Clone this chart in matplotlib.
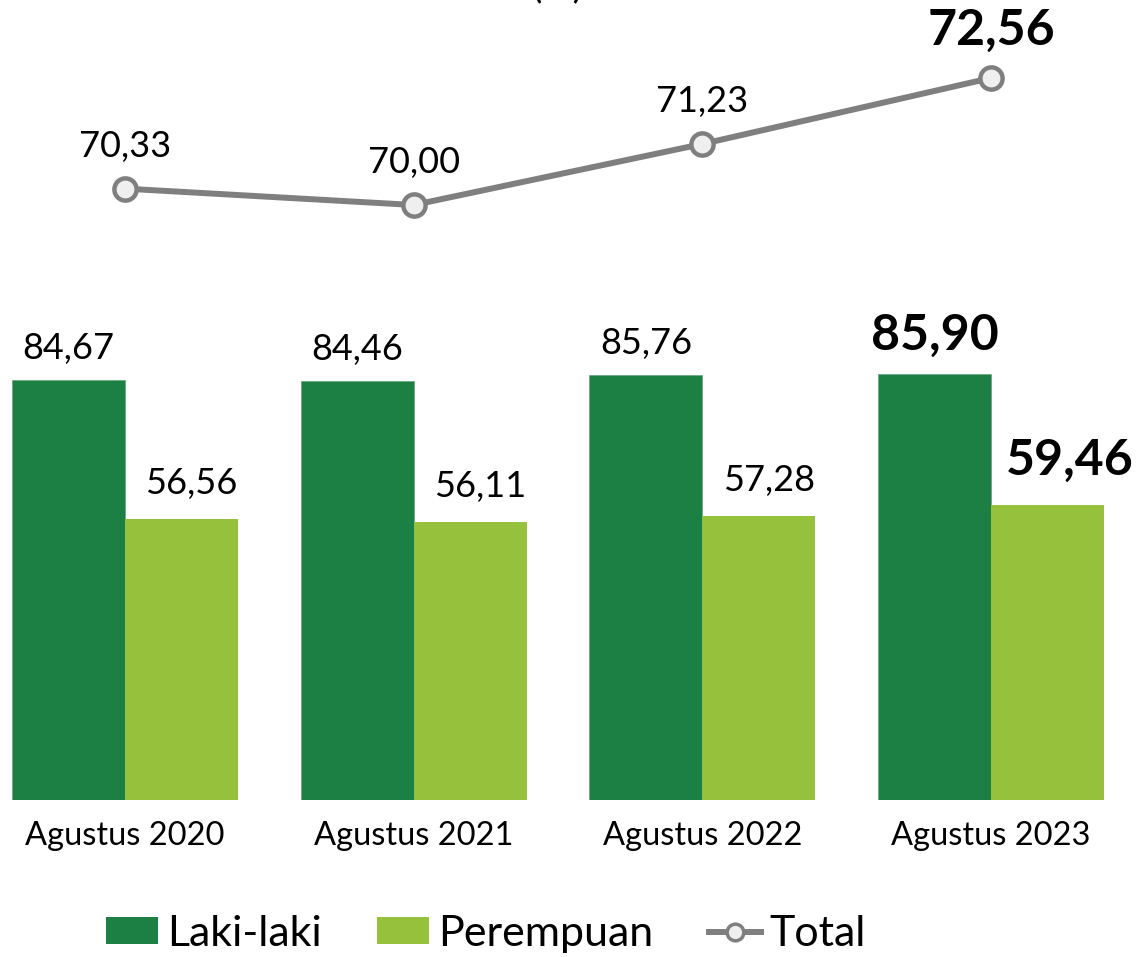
import matplotlib
matplotlib.use("Agg")
import matplotlib.pyplot as plt
from matplotlib.lines import Line2D
from matplotlib.patches import Patch

periods = ["Agustus 2020", "Agustus 2021", "Agustus 2022", "Agustus 2023"]
laki = [84.67, 84.46, 85.76, 85.90]
perempuan = [56.56, 56.11, 57.28, 59.46]
total = [70.33, 70.00, 71.23, 72.56]

DARK = "#1C7F43"
LIGHT = "#95C13D"
GREY = "#7F7F7F"

plt.rcParams["font.family"] = ["Lato", "DejaVu Sans"]

W, H = 1138, 957
fig = plt.figure(figsize=(W / 100, H / 100), dpi=100)

# axes spans full width; bottom of bars at y=800px
ax = fig.add_axes([0, 1 - 800 / H, 1, 800 / H])
px_per_unit = 288.67
ax.set_xlim(-125 / px_per_unit, 3 + (W - 991) / px_per_unit)
ax.set_ylim(0, 800 / 4.96)

x = list(range(len(periods)))
bw = 113 / px_per_unit
b1 = ax.bar([i - bw / 2 for i in x], laki, bw, color=DARK, edgecolor="#6FA884", linewidth=0.6)
b2 = ax.bar([i + bw / 2 for i in x], perempuan, bw, color=LIGHT, linewidth=0)

last = len(periods) - 1
for i in x:
    bold = i == last
    ax.annotate(f"{laki[i]:.2f}".replace(".", ","), (i - bw / 2, laki[i]),
                xytext=(0, 17 if bold else 15), textcoords="offset points",
                ha="center", va="baseline", fontsize=36 if bold else 26,
                fontweight="bold" if bold else "normal")
    ax.annotate(f"{perempuan[i]:.2f}".replace(".", ","), (i + bw / 2, perempuan[i]),
                xytext=(16 if bold else 7, 22 if bold else 18), textcoords="offset points",
                ha="center", va="baseline", fontsize=36 if bold else 26,
                fontweight="bold" if bold else "normal")

ax.set_xticks(x)
ax.set_xticklabels(periods, fontsize=23.5)
ax.tick_params(axis="x", length=0, pad=15)
ax.set_yticks([])
for s in ax.spines.values():
    s.set_visible(False)

# line on its own scale
ax2 = ax.twinx()
ax2.set_ylim(70 - 595 / 49.6, 70 + 205 / 49.6)
ax2.plot(x, total, color=GREY, lw=4.3, marker="o", markersize=16,
         markerfacecolor="#EFEFEF", markeredgecolor=GREY, markeredgewidth=3.2,
         solid_capstyle="round")
for i in x:
    bold = i == last
    ax2.annotate(f"{total[i]:.2f}".replace(".", ","), (i, total[i]),
                 xytext=(0, 24 if bold else 23), textcoords="offset points",
                 ha="center", va="baseline", fontsize=36 if bold else 26,
                 fontweight="bold" if bold else "normal")
ax2.set_yticks([])
for s in ax2.spines.values():
    s.set_visible(False)

# title cut off at top of the image
fig.text(557 / W, 1 + 3 / H, "(%)", ha="center", va="baseline", fontsize=28)

handles = [
    Patch(facecolor=DARK, label="Laki-laki"),
    Patch(facecolor=LIGHT, label="Perempuan"),
    Line2D([], [], color=GREY, lw=4.3, marker="o", markersize=12,
           markerfacecolor="#EFEFEF", markeredgecolor=GREY, markeredgewidth=2.5,
           label="Total"),
]
fig.legend(handles=handles, loc="center", bbox_to_anchor=(486 / W, 1 - 934 / H),
           ncol=3, frameon=False, fontsize=31, handlelength=1.2, handleheight=0.6,
           handletextpad=0.2, columnspacing=1.3, borderpad=0)

fig.savefig("out.png", dpi=100)
